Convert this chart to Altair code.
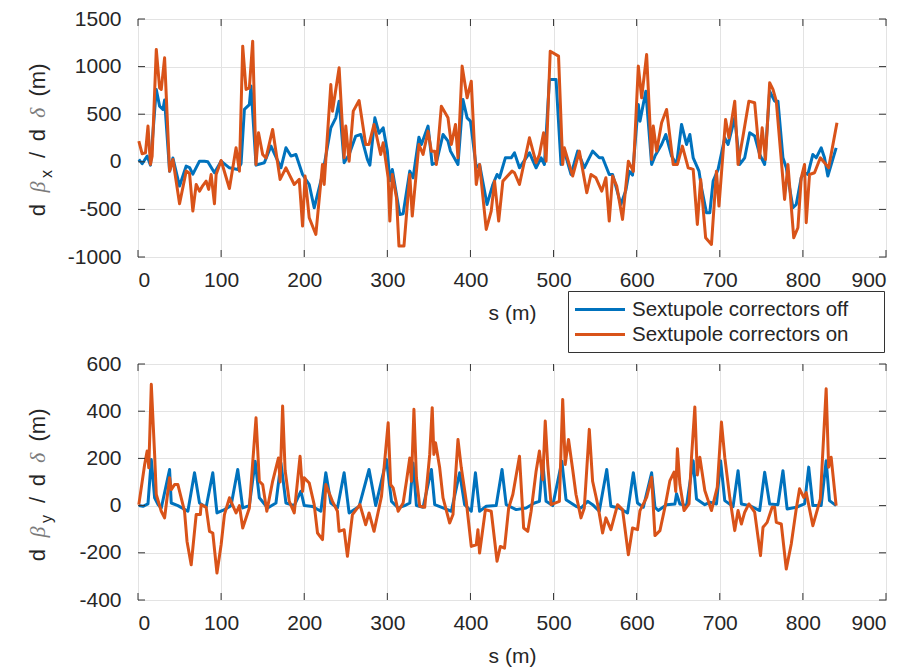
import altair as alt
import pandas as pd

# ---------------- data ----------------
x_ticks = [0, 100, 200, 300, 400, 500, 600, 700, 800, 900]
yx_ticks = [-1000, -500, 0, 500, 1000, 1500]
yy_ticks = [-400, -200, 0, 200, 400, 600]

LBL_OFF = "Sextupole correctors off"
LBL_ON = "Sextupole correctors on"

# top panel: d beta_x / d delta, correctors off
sx_off = [1, 5, 11, 15, 22, 26, 30, 32, 38, 42, 50, 58, 62, 66, 74, 80, 84, 92, 100, 110,
          120, 124, 128, 134, 136, 142, 152, 160, 172, 178, 184, 190, 198, 206, 212, 222, 232, 238, 242, 248,
          254, 262, 268, 276, 279, 285, 290, 295, 300, 303, 306, 315, 319, 327, 331, 338, 341, 349, 354, 359,
          367, 373, 376, 385, 391, 396, 400, 407, 411, 420, 427, 432, 435, 442, 449, 453, 459, 471, 479, 485,
          489, 495, 503, 509, 513, 521, 529, 537, 547, 555, 559, 567, 571, 581, 587, 591, 595, 602, 604, 611,
          618, 622, 630, 635, 642, 648, 654, 660, 664, 668, 675, 678, 684, 688, 692, 698, 706, 710, 718, 724,
          730, 736, 742, 748, 754, 760, 766, 770, 776, 780, 788, 792, 798, 802, 806, 812, 816, 822, 826, 830,
          840]
bx_off = [25, -20, 60, -35, 760, 585, 550, 650, -100, 40, -255, -45, -60, -130, 7, 5, 0, -115, 7, -63,
          -80, -20, 550, 600, 795, -35, -10, 165, -63, 147, 60, 77, -133, -238, -483, -133, 357, 462, 637, -10,
          77, 270, 287, 25, -35, 462, 300, 357, 112, -200, -80, -553, -546, -98, -168, 259, 182, 375, -28, -10,
          287, 217, 112, -28, 654, 462, 427, -63, -28, -448, -238, -133, -168, 42, 42, 94, -63, 94, -63, 42,
          -28, 864, 864, -28, 112, -133, 112, -63, 112, 42, 42, -133, -133, -448, -300, -100, -140, 602, 427, 742,
          -28, 60, 182, 287, 60, -28, 392, 182, 287, 42, -98, -273, -535, -535, -203, -80, 252, 182, 462, -28,
          42, 305, 270, 77, -28, 742, 637, 637, 42, -63, -483, -448, -168, -115, -133, 77, 42, 147, 42, -150,
          147]

# top panel: correctors on
sx_on = [1, 5, 9, 12, 15, 17, 22, 26, 28, 32, 38, 42, 50, 58, 62, 66, 70, 74, 78, 82,
         85, 88, 92, 94, 100, 110, 118, 122, 126, 130, 134, 138, 142, 145, 150, 154, 162, 171, 178, 188,
         194, 198, 201, 206, 214, 222, 224, 232, 234, 242, 248, 250, 254, 259, 266, 274, 278, 284, 292, 295,
         301, 303, 306, 311, 314, 320, 327, 330, 338, 343, 349, 353, 357, 359, 365, 373, 377, 382, 385, 390,
         396, 401, 407, 411, 419, 425, 429, 434, 439, 450, 453, 459, 471, 479, 483, 488, 491, 496, 506, 511,
         513, 523, 531, 540, 545, 551, 558, 563, 567, 571, 576, 583, 590, 596, 602, 606, 612, 618, 620, 624,
         630, 636, 644, 649, 655, 662, 668, 673, 677, 683, 690, 696, 699, 707, 711, 718, 722, 728, 735, 742,
         748, 751, 755, 760, 764, 768, 778, 782, 789, 794, 798, 802, 804, 808, 814, 821, 826, 831, 841]
bx_on = [217, 84, 94, 375, -28, 60, 1180, 777, 760, 1092, -98, 25, -441, -98, -120, -518, -238, -308, -250, -203,
         -290, -133, -441, -133, 14, -280, 147, -98, 1215, 760, 777, 1267, -28, 305, 77, 40, 340, -185, -63, -238,
         -185, -675, -150, -588, -763, -28, -238, 812, 532, 987, 42, 375, 7, 532, 644, 182, 182, 392, 77, 200,
         -168, -623, -133, -378, -885, -885, -133, -570, 182, 77, 322, 112, 112, -28, 584, 462, 182, 392, 42, 1005,
         672, 847, -238, -28, -710, -518, -203, -623, -203, -98, -115, -238, 252, -10, 77, 305, 7, 1162, 1110, -28,
         147, -150, 112, -325, -133, -168, -308, -168, -623, -150, -255, -605, 7, -100, 1005, 672, 1127, 25, 375, 112,
         410, 550, -28, -28, 165, -63, -80, -658, -185, -798, -868, -98, -465, 445, 252, 637, -28, 270, 637, 620,
         42, 357, 25, 830, 760, 637, -395, -28, -798, -693, -168, -28, -640, -133, -115, 42, -10, -63, 410]

# bottom panel: d beta_y / d delta, correctors off
sy_off = [1, 6, 12, 16, 20, 24, 28, 38, 40, 48, 60, 68, 74, 82, 90, 95, 104, 112, 120, 126,
          134, 141, 146, 156, 166, 172, 178, 188, 196, 200, 210, 220, 226, 232, 240, 248, 254, 266, 278, 286,
          299, 305, 313, 321, 327, 331, 335, 343, 353, 357, 367, 377, 387, 393, 401, 406, 411, 419, 431, 438,
          443, 455, 467, 477, 483, 487, 491, 499, 510, 515, 527, 533, 541, 547, 555, 564, 569, 579, 589, 596,
          601, 608, 618, 622, 626, 636, 646, 648, 652, 660, 668, 672, 682, 688, 696, 701, 706, 716, 722, 726,
          736, 748, 754, 760, 770, 776, 781, 792, 802, 807, 812, 822, 828, 832, 840]
by_off = [0, -3, 7, 195, 33, 5, -10, 153, 11, 0, -24, 139, 11, -7, 139, -31, -17, 0, 153, -10,
          0, 188, 33, -10, 11, 181, 11, 0, 61, 0, -4, -24, 139, 11, -10, 139, -31, -4, 153, 0,
          195, 18, -10, 0, 11, 181, 0, -7, 153, 4, -10, -24, 139, 4, -24, 139, -24, -3, 0, 153,
          4, -17, -10, 11, 18, 188, 18, 0, 188, 25, -3, -10, 18, 4, -24, 153, -3, -10, -31, 139,
          11, -7, 139, -7, -21, 4, 7, 50, 7, 0, 190, 28, 4, 14, 7, 190, 21, -4, 148, 7,
          0, -21, 141, 7, 4, 148, -14, -7, 7, 163, 0, 0, 190, 21, 0]

# bottom panel: correctors on
sy_on = [1, 8, 11, 13, 16, 20, 22, 28, 32, 38, 40, 44, 48, 56, 59, 64, 70, 75, 76, 82,
         86, 90, 95, 100, 104, 110, 118, 122, 126, 134, 142, 146, 150, 155, 162, 169, 171, 174, 177, 182,
         188, 195, 198, 200, 206, 212, 216, 222, 226, 234, 240, 242, 248, 252, 258, 267, 274, 278, 284, 290,
         293, 301, 304, 307, 313, 319, 323, 327, 329, 332, 335, 339, 345, 351, 354, 356, 358, 363, 367, 375,
         379, 385, 389, 395, 401, 407, 409, 411, 418, 425, 432, 436, 441, 446, 451, 459, 464, 469, 473, 479,
         483, 487, 490, 493, 497, 507, 511, 514, 518, 523, 527, 533, 537, 543, 547, 553, 559, 563, 569, 577,
         583, 590, 595, 601, 604, 612, 618, 622, 628, 634, 640, 645, 647, 649, 652, 657, 663, 666, 670, 673,
         676, 682, 690, 697, 702, 706, 712, 718, 722, 726, 730, 735, 742, 749, 752, 757, 763, 766, 768, 774,
         780, 786, 792, 796, 801, 804, 812, 821, 828, 831, 834, 840]
by_on = [4, 174, 231, 160, 514, 217, 47, -24, -52, 118, 68, 89, 89, -24, -152, -251, -38, -38, 4, -7,
         -109, -116, -286, -166, -38, 33, -31, 0, -95, -10, 372, 103, 89, -24, 103, 202, 100, 422, 150, 18,
         -31, 209, 60, 118, 96, 4, -116, -144, 89, 18, -24, -109, -102, -215, -38, 4, -81, -31, -109, -10,
         40, 351, 89, 75, -24, 11, 103, 202, 103, 408, 118, -3, -7, 217, 415, 217, 266, 160, 33, -74,
         -38, 280, 160, 18, -173, -166, -102, -201, -17, -24, -236, -173, -180, -10, 47, 209, -95, -109, -24, 146,
         231, 110, 358, 174, 4, 18, 450, 174, 280, 153, 47, -52, -10, 323, 103, 7, -116, -52, -102, 4,
         -17, -208, -95, -102, -21, 35, 120, -127, -106, -7, 106, 142, 60, 241, 90, -21, 7, 205, 418, 130,
         205, 64, -21, 78, 354, 205, 35, -106, -21, -78, -28, 7, -28, -212, -92, -71, -7, -7, -71, -78,
         -269, -163, -14, 71, 35, 55, -85, 28, 495, 163, 205, 0]

# ---------------- styling ----------------
BLUE = "#0072BD"
ORANGE = "#D95319"
TXT = "#262626"
FRAME = "#333333"
GRID = "#e3e3e3"
FONT = "Liberation Sans"
W = 748
TICK = 7


def long_df(s1, v1, s2, v2):
    a = pd.DataFrame({"s": s1, "v": v1, "series": LBL_OFF})
    b = pd.DataFrame({"s": s2, "v": v2, "series": LBL_ON})
    return pd.concat([a, b], ignore_index=True)


def panel(df, ydom, yticks, H, sub, show_legend):
    xs = alt.Scale(domain=[0, 900], nice=False, zero=False)
    ys = alt.Scale(domain=ydom, nice=False, zero=False)
    xaxis = alt.Axis(
        values=x_ticks, title="s (m)", grid=True, gridColor=GRID,
        ticks=False, domain=False, labelFontSize=21, labelFont=FONT,
        labelColor=TXT, labelPadding=12, titleFontSize=21, titleFont=FONT,
        titleFontWeight="normal", titleColor=TXT, titlePadding=12,
        labelExpr="datum.value + ''")
    yaxis = alt.Axis(
        values=yticks, title=None, grid=True, gridColor=GRID, ticks=False,
        domain=False, labelFontSize=21, labelFont=FONT, labelColor=TXT,
        labelPadding=17, labelExpr="datum.value + ''")
    legend = None
    if show_legend:
        pad = "\u00a0" * 5 + "\u200b"
        legend = alt.Legend(
            title=None, orient="none", legendX=430, legendY=272,
            direction="vertical", symbolType="M-2.5,0H2.5", symbolSize=400,
            symbolStrokeWidth=3, symbolOffset=13.5, labelFontSize=20.5,
            labelFont=FONT, labelColor=TXT, labelLimit=400, fillColor="white",
            strokeColor=FRAME, padding=7, rowPadding=3, labelOffset=20.5,
            labelExpr="datum.label + '" + pad + "'",
        )
    lines = alt.Chart(df).mark_line(strokeWidth=3, strokeJoin="round").encode(
        x=alt.X("s:Q", scale=xs, axis=xaxis),
        y=alt.Y("v:Q", scale=ys, axis=yaxis),
        color=alt.Color("series:N", scale=alt.Scale(
            domain=[LBL_OFF, LBL_ON], range=[BLUE, ORANGE]), legend=legend),
    )
    xt = pd.DataFrame({"t": x_ticks})
    yt = pd.DataFrame({"t": yticks})
    rx = alt.Chart(xt).mark_rule(color=FRAME, strokeWidth=1)
    ry = alt.Chart(yt).mark_rule(color=FRAME, strokeWidth=1)
    xenc = alt.X("t:Q", scale=xs, axis=xaxis)
    yenc = alt.Y("t:Q", scale=ys, axis=yaxis)
    ticks = [
        rx.encode(x=xenc, y=alt.value(H), y2=alt.value(H - TICK)),
        rx.encode(x=xenc, y=alt.value(0), y2=alt.value(TICK)),
        ry.encode(y=yenc, x=alt.value(0), x2=alt.value(TICK)),
        ry.encode(y=yenc, x=alt.value(W - TICK), x2=alt.value(W)),
    ]
    one = alt.Data(values=[{}])
    xb = -93
    pieces = [
        ("d", 191, xb, 22, TXT, "normal", FONT),
        ("\u03b2", 168, xb, 22, "#7a7a7a", "italic", "Liberation Serif"),
        (sub, 155, xb + 7, 16, TXT, "normal", FONT),
        ("/", 136, xb, 22, TXT, "normal", FONT),
        ("d", 116, xb, 22, TXT, "normal", FONT),
        ("\u03b4", 94, xb, 22, "#7a7a7a", "italic", "Liberation Serif"),
        ("(m)", 61, xb, 22, TXT, "normal", FONT),
    ]
    texts = []
    for t, yy, xx, fs, col, sty, fnt in pieces:
        texts.append(alt.Chart(one).mark_text(
            text=t, angle=270, align="center", baseline="alphabetic",
            fontSize=fs, color=col, fontStyle=sty, font=fnt,
        ).encode(x=alt.value(xx), y=alt.value(yy)))
    return alt.layer(lines, *ticks, *texts).properties(width=W, height=H)


top = panel(long_df(sx_off, bx_off, sx_on, bx_on), [-1000, 1500], yx_ticks, 238, "x", True)
bottom = panel(long_df(sy_off, by_off, sy_on, by_on), [-400, 600], yy_ticks, 236, "y", False)

chart = alt.vconcat(top, bottom, spacing=107, bounds="flush").resolve_legend(
    color="independent"
).properties(
    padding={"left": 26, "top": 7, "right": 5, "bottom": 5}, background="white"
).configure_view(stroke=FRAME, strokeWidth=1)

chart.save("out.html", embed_options={"renderer": "svg", "actions": False})
